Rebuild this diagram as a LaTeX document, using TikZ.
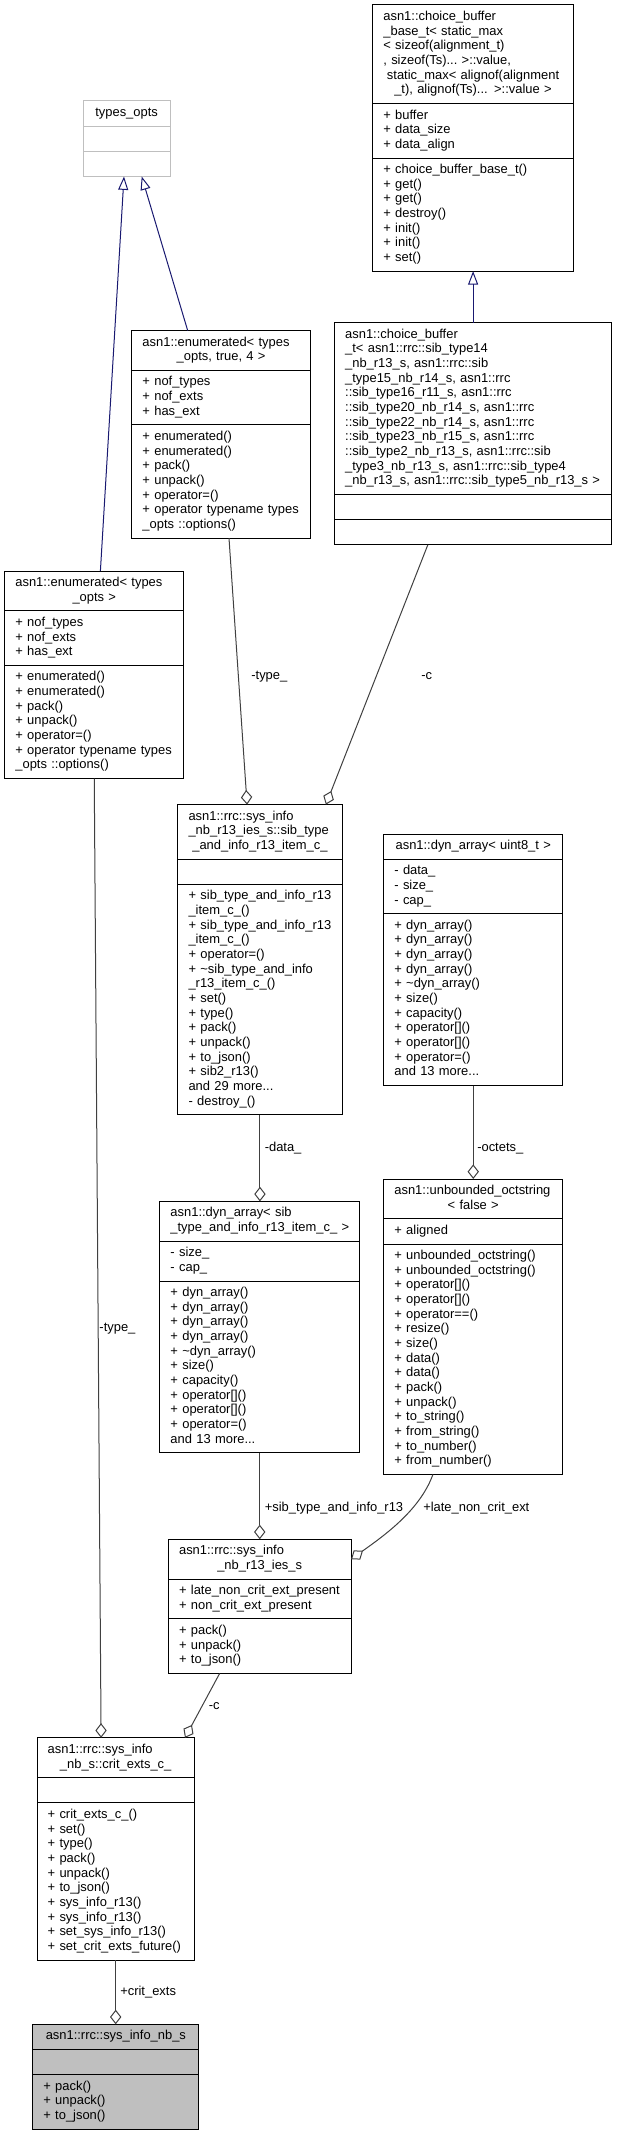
\documentclass[tikz,border=0pt]{standalone}
\usepackage{fontspec}
\setmainfont{Liberation Sans}
\usepackage{tikz}
\usetikzlibrary{positioning,arrows.meta}
\definecolor{edgegray}{HTML}{404040}
\definecolor{inhblue}{HTML}{191970}
\definecolor{boxgray}{HTML}{BFBFBF}
\newcommand{\ctr}[1]{\makebox[\linewidth]{#1}}

\begin{document}
\begin{tikzpicture}[x=0.75pt, y=-0.75pt,
  cls/.style={draw=black, line width=0.75pt, outer sep=0pt, inner xsep=8pt, inner ysep=3.94pt,
    align=left, text width=#1, font=\fontsize{9.7}{11}\selectfont,
    execute at begin node=\strut, execute at end node=\strut},
  hd/.style={cls=#1, anchor=north},
  lbl/.style={anchor=base west, inner sep=0pt, font=\fontsize{9.7}{11}\selectfont},
  use/.style={draw=edgegray, line width=0.75pt, -{Diamond[open, length=11pt, width=8.5pt]}},
  inh/.style={draw=inhblue, line width=0.75pt, -{Triangle[open, length=10pt, width=7.5pt]}}]

\useasboundingbox (0,0) rectangle (617,2136);

\node[hd=49.25pt, draw=boxgray] (typH) at (126.6,101) {\ctr{types\_opts}};
\node[cls=49.25pt, draw=boxgray, below=0pt of typH] (typA) {};
\node[cls=49.25pt, draw=boxgray, below=0pt of typA] (typM) {};

\node[hd=134.45pt] (cbbH) at (473,5) {asn1::choice\_buffer\\
  \_base\_t<~static\_max\\
  <~sizeof(alignment\_t)\\
  ,~sizeof(Ts)...~>::value,\\
  \hspace*{2.7pt}static\_max<~alignof(alignment\\
  \ctr{\_t), alignof(Ts)... >::value >}};
\node[cls=134.45pt, below=0pt of cbbH] (cbbA) {+ buffer\\ + data\_size\\ + data\_align};
\node[cls=134.45pt, below=0pt of cbbA] (cbbM) {+~choice\_buffer\_base\_t()\\ + get()\\ + get()\\
  + destroy()\\ + init()\\ + init()\\ + set()};

\node[hd=117.95pt] (eT4H) at (221.1,330.6) {asn1::enumerated<~types\\ \ctr{\_opts, true, 4 >}};
\node[cls=117.95pt, below=0pt of eT4H] (eT4A) {+ nof\_types\\ + nof\_exts\\ + has\_ext};
\node[cls=117.95pt, below=0pt of eT4A] (eT4M) {+ enumerated()\\ + enumerated()\\ + pack()\\ + unpack()\\
  + operator=()\\ +~operator~typename~types\\ \_opts ::options()};

\node[hd=191.9pt] (cbtH) at (473.1,322.7) {asn1::choice\_buffer\\
  \_t<~asn1::rrc::sib\_type14\\
  \_nb\_r13\_s,~asn1::rrc::sib\\
  \_type15\_nb\_r14\_s,~asn1::rrc\\
  ::sib\_type16\_r11\_s,~asn1::rrc\\
  ::sib\_type20\_nb\_r14\_s,~asn1::rrc\\
  ::sib\_type22\_nb\_r14\_s,~asn1::rrc\\
  ::sib\_type23\_nb\_r15\_s,~asn1::rrc\\
  ::sib\_type2\_nb\_r13\_s,~asn1::rrc::sib\\
  \_type3\_nb\_r13\_s,~asn1::rrc::sib\_type4\\
  \_nb\_r13\_s,~asn1::rrc::sib\_type5\_nb\_r13\_s~>};
\node[cls=191.9pt, below=0pt of cbtH] (cbtA) {};
\node[cls=191.9pt, below=0pt of cbtA] (cbtM) {};

\node[hd=118.3pt] (eTOH) at (94.25,571) {asn1::enumerated<~types\\ \ctr{\_opts >}};
\node[cls=118.3pt, below=0pt of eTOH] (eTOA) {+ nof\_types\\ + nof\_exts\\ + has\_ext};
\node[cls=118.3pt, below=0pt of eTOA] (eTOM) {+ enumerated()\\ + enumerated()\\ + pack()\\ + unpack()\\
  + operator=()\\ +~operator~typename~types\\ \_opts ::options()};

\node[hd=107.1pt] (sitH) at (259.95,804.6) {asn1::rrc::sys\_info\\ \_nb\_r13\_ies\_s::sib\_type\\
  \ctr{\_and\_info\_r13\_item\_c\_}};
\node[cls=107.1pt, below=0pt of sitH] (sitA) {};
\node[cls=107.1pt, below=0pt of sitA] (sitM) {+~sib\_type\_and\_info\_r13\\ \_item\_c\_()\\
  +~sib\_type\_and\_info\_r13\\ \_item\_c\_()\\ + operator=()\\ +~\textasciitilde{}sib\_type\_and\_info\\
  \_r13\_item\_c\_()\\ + set()\\ + type()\\ + pack()\\ + unpack()\\ + to\_json()\\ + sib2\_r13()\\
  and 29 more...\\ - destroy\_()};

\node[hd=118.3pt] (dauH) at (473.25,834) {\ctr{asn1::dyn\_array< uint8\_t >}};
\node[cls=118.3pt, below=0pt of dauH] (dauA) {- data\_\\ - size\_\\ - cap\_};
\node[cls=118.3pt, below=0pt of dauA] (dauM) {+ dyn\_array()\\ + dyn\_array()\\ + dyn\_array()\\
  + dyn\_array()\\ + \textasciitilde{}dyn\_array()\\ + size()\\ + capacity()\\ + operator[]()\\
  + operator[]()\\ + operator=()\\ and 13 more...};

\node[hd=133.9pt] (dasH) at (259.75,1201.4) {asn1::dyn\_array<~sib\\ \ctr{\_type\_and\_info\_r13\_item\_c\_ >}};
\node[cls=133.9pt, below=0pt of dasH] (dasA) {- size\_\\ - cap\_};
\node[cls=133.9pt, below=0pt of dasA] (dasM) {+ dyn\_array()\\ + dyn\_array()\\ + dyn\_array()\\
  + dyn\_array()\\ + \textasciitilde{}dyn\_array()\\ + size()\\ + capacity()\\ + operator[]()\\
  + operator[]()\\ + operator=()\\ and 13 more...};

\node[hd=118.3pt] (uosH) at (473.25,1179) {asn1::unbounded\_octstring\\ \ctr{< false >}};
\node[cls=118.3pt, below=0pt of uosH] (uosA) {+ aligned};
\node[cls=118.3pt, below=0pt of uosA] (uosM) {+~unbounded\_octstring()\\ +~unbounded\_octstring()\\
  + operator[]()\\ + operator[]()\\ + operator==()\\ + resize()\\ + size()\\ + data()\\ + data()\\
  + pack()\\ + unpack()\\ + to\_string()\\ + from\_string()\\ + to\_number()\\ + from\_number()};

\node[hd=120.95pt] (iesH) at (259.7,1539.3) {asn1::rrc::sys\_info\\ \ctr{\_nb\_r13\_ies\_s}};
\node[cls=120.95pt, below=0pt of iesH] (iesA) {+~late\_non\_crit\_ext\_present\\ +~non\_crit\_ext\_present};
\node[cls=120.95pt, below=0pt of iesA] (iesM) {+ pack()\\ + unpack()\\ + to\_json()};

\node[hd=102.05pt] (cecH) at (115.7,1737.8) {asn1::rrc::sys\_info\\ \ctr{\_nb\_s::crit\_exts\_c\_}};
\node[cls=102.05pt, below=0pt of cecH] (cecA) {};
\node[cls=102.05pt, below=0pt of cecA] (cecM) {+ crit\_exts\_c\_()\\ + set()\\ + type()\\ + pack()\\
  + unpack()\\ + to\_json()\\ + sys\_info\_r13()\\ + sys\_info\_r13()\\ +~set\_sys\_info\_r13()\\
  +~set\_crit\_exts\_future()};

\node[hd=108.7pt, fill=boxgray] (sinH) at (115.85,2024.3) {\ctr{asn1::rrc::sys\_info\_nb\_s}};
\node[cls=108.7pt, fill=boxgray, below=0pt of sinH] (sinA) {};
\node[cls=108.7pt, fill=boxgray, below=0pt of sinA] (sinM) {+ pack()\\ + unpack()\\ + to\_json()};

\draw[inh] (eTOH.north -| 100.4,0) -- (typM.south -| 124,0);
\draw[inh] (eT4H.north -| 187.7,0) -- (typM.south -| 141.7,0);
\draw[inh] (cbtH.north) -- (cbbM.south -| cbtH.north);

\draw[use] (eT4M.south -| 229,0) -- (sitH.north -| 247.1,0);
\draw[use] (cbtM.south -| 427.8,0) -- (sitH.north -| 325.9,0);
\draw[use] (eTOM.south) -- (cecH.north -| 101.1,0);
\draw[use] (sitM.south) -- (dasH.north -| sitM.south);
\draw[use] (dauM.south) -- (uosH.north -| dauM.south);
\draw[use] (dasM.south) -- (iesH.north -| dasM.south);
\draw[use] (uosM.south -| 432.9,0) .. controls (420,1510) and (385,1535) .. (iesH.east);
\draw[use] (iesM.south -| 219.6,0) -- (cecH.north -| 185,0);
\draw[use] (cecM.south) -- (sinH.north -| cecM.south);

\node[lbl] (lbType) at (251.1,679) {-type\_};
\node[lbl] (lbC) at (421.1,679) {-c};
\node[lbl] (lbTypeB) at (99.2,1331) {-type\_};
\node[lbl] (lbData) at (264.5,1151) {-data\_};
\node[lbl] (lbOctets) at (477,1151) {-octets\_};
\node[lbl] (lbSib) at (264.5,1511) {+sib\_type\_and\_info\_r13};
\node[lbl] (lbLate) at (423,1511) {+late\_non\_crit\_ext};
\node[lbl] (lbCB) at (208.6,1709) {-c};
\node[lbl] (lbCrit) at (120,1995.5) {+crit\_exts};

\end{tikzpicture}
\end{document}
